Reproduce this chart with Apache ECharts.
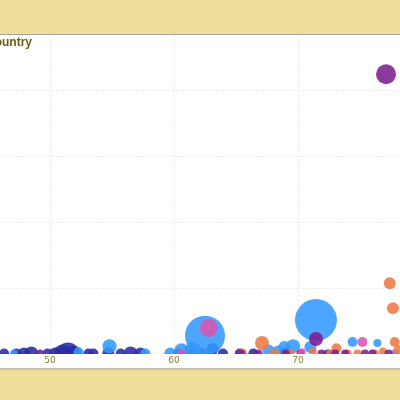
<!DOCTYPE html>
<html>
<head>
<meta charset="utf-8">
<script src="https://cdn.jsdelivr.net/npm/echarts@6/dist/echarts.min.js"></script>
<style>
  html, body { margin: 0; padding: 0; width: 400px; height: 400px; overflow: hidden; background: #f0df9b; }
  .panel {
    position: absolute; left: 0; top: 34px; width: 400px; height: 333px;
    background: #fff; border-top: 1px solid #a8a49a; border-bottom: 2px solid #c6c1ae;
    overflow: hidden;
  }
  #chart { position: absolute; left: -100px; top: -135px; width: 750px; height: 500px; }
</style>
</head>
<body>
<div class="panel"><div id="chart"></div></div>
<script>
// [lifeExp, value, pop]
var groupNames = ['Africa', 'Asia', 'Europe', 'Americas', 'Oceania'];
var groupColors = ['#2b2ba6', '#3399ff', '#ee7a45', '#7c1f8e', '#d955b2'];
var xTicks = [40, 50, 60, 70, 80, 90];

var africa = [
  [46.3, 0, 69], [47.3, 0, 69], [47.9, 0, 100], [48.5, 0, 136],
  [49.8, 0, 69], [50.4, 0, 100], [51.0, 0, 225], [51.45, 0, 336],
  [51.9, 0, 178], [53.1, 0, 69], [53.5, 0, 69], [54.7, 0, 100],
  [55.7, 0, 69], [56.5, 0, 136], [57.3, 0, 100], [60.3, 0, 69],
  [61.4, 0, 69], [62.2, 0, 100], [63.1, 0.07, 100], [63.95, 0, 69],
  [65.3, 0, 69], [66.4, 0, 69], [69.0, 0, 100], [72.4, 0, 44]
];
var asia = [
  [47.1, 0, 44], [52.3, 0.02, 69], [54.8, 0.11, 136], [57.7, 0, 69],
  [59.7, 0, 100], [60.6, 0.05, 136], [61.5, 0.05, 178], [62.5, 0.27, 1111],
  [67.6, 0.05, 100], [68.4, 0.03, 100], [68.9, 0.1, 100], [69.6, 0.11, 136],
  [71.0, 0.1, 100], [71.45, 0.51, 1225], [74.4, 0.175, 69], [76.4, 0.16, 44],
  [77.8, 0, 44]
];
var europe = [
  [65.5, 0, 69], [67.1, 0.16, 136], [68.1, 0, 69], [69.4, 0, 44],
  [71.2, 0.03, 44], [72.6, 0, 44], [73.1, 0.08, 69], [74.0, 0, 44],
  [74.8, 0, 44], [76.2, 0, 44], [76.85, 0.03, 44], [77.4, 1.07, 100],
  [77.66, 0.69, 100], [77.8, 0.175, 69], [78.1, 0.05, 69]
];
var americas = [
  [49.2, 0, 44], [65.4, 0, 44], [66.8, 0, 44], [69.0, 0, 44],
  [70.2, 0, 44], [71.45, 0.22, 136], [71.9, 0, 44], [73.0, 0, 44],
  [73.8, 0, 44], [75.4, 0, 44], [76.0, 0, 44], [77.3, 0, 44],
  [77.1, 4.25, 278]
];
var oceania = [
  [60.6, 0, 44], [62.8, 0.39, 225], [70.3, 0.02, 44], [75.2, 0.175, 69]
];
var groups = [africa, asia, europe, americas, oceania];

var chart = echarts.init(document.getElementById('chart'));
chart.setOption({
  animation: false,
  title: {
    text: 'Life Expectancy and GDP by Country',
    right: 618,
    top: 137,
    padding: 0,
    textStyle: { fontFamily: 'Liberation Sans', fontSize: 12, fontWeight: 'bold', color: '#6b5a12' }
  },
  grid: { left: 26, right: 104, top: 59.3, bottom: 46.5 },
  xAxis: [{
    // grid lines only
    type: 'value', min: xTicks[0], max: xTicks[xTicks.length - 1], interval: 10,
    axisLine: { show: false },
    axisTick: { show: false },
    axisLabel: { show: false },
    splitLine: { lineStyle: { type: [3, 2], color: '#ececec' } }
  }, {
    // labels only, drawn above the white band
    type: 'value', min: xTicks[0], max: xTicks[xTicks.length - 1], interval: 10,
    position: 'bottom', z: 10,
    axisLine: { show: false },
    axisTick: { show: false },
    axisLabel: { margin: 3, fontSize: 9, color: '#8c7b33', fontFamily: 'DejaVu Sans' },
    splitLine: { show: false }
  }],
  yAxis: {
    type: 'value', min: 0, max: 6, interval: 1,
    axisLine: { show: false },
    axisTick: { show: false },
    axisLabel: { show: false },
    splitLine: { lineStyle: { type: [3, 2], color: '#ececec' } }
  },
  // white band under the plot so bubbles on the baseline are cut flat
  graphic: [{
    type: 'rect', z: 5, silent: true,
    shape: { x: 0, y: 454, width: 750, height: 46 },
    style: { fill: '#fff' }
  }],
  series: groups.map(function (data, i) {
    return {
      name: groupNames[i],
      type: 'scatter',
      xAxisIndex: 0,
      data: data,
      symbolSize: function (v) { return Math.sqrt(v[2]) * 1.2; },
      itemStyle: { color: groupColors[i], opacity: 0.88 }
    };
  })
});
</script>
</body>
</html>
